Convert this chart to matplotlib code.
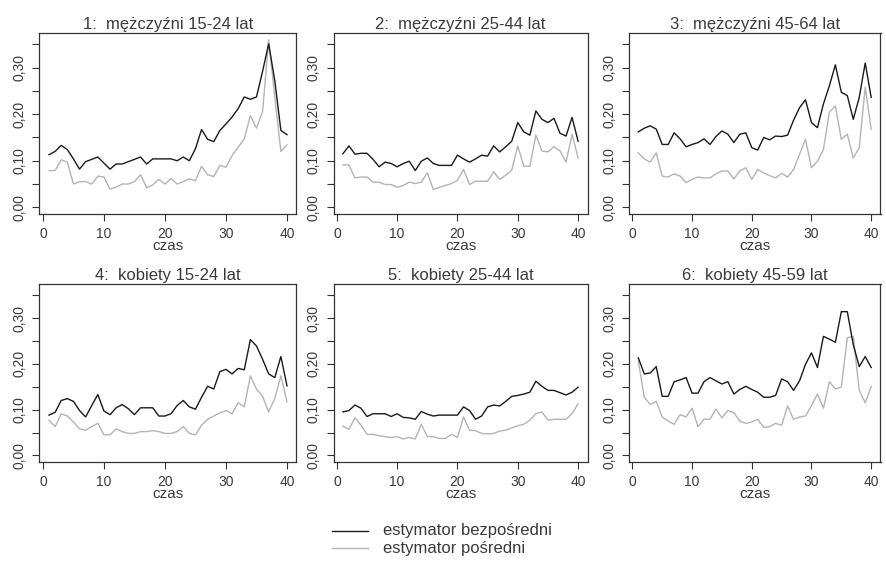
import matplotlib
matplotlib.use("Agg")
import matplotlib.pyplot as plt
import numpy as np
from matplotlib.lines import Line2D

plt.rcParams['font.family'] = ['Liberation Sans', 'DejaVu Sans']

czas = list(range(1, 41))

titles = ["1:  mężczyźni 15-24 lat", "2:  mężczyźni 25-44 lat", "3:  mężczyźni 45-64 lat",
          "4:  kobiety 15-24 lat", "5:  kobiety 25-44 lat", "6:  kobiety 45-59 lat"]

bezp_1 = [0.113, 0.120, 0.133, 0.124, 0.104, 0.082, 0.098, 0.103, 0.108, 0.095,
          0.082, 0.093, 0.093, 0.098, 0.103, 0.108, 0.093, 0.104, 0.104, 0.104,
          0.104, 0.100, 0.108, 0.100, 0.126, 0.167, 0.146, 0.141, 0.165, 0.179,
          0.194, 0.212, 0.237, 0.232, 0.237, 0.292, 0.351, 0.272, 0.165, 0.156]
posr_1 = [0.079, 0.079, 0.102, 0.097, 0.050, 0.055, 0.055, 0.050, 0.067, 0.065,
          0.039, 0.043, 0.050, 0.050, 0.055, 0.070, 0.042, 0.048, 0.060, 0.050,
          0.062, 0.050, 0.055, 0.061, 0.057, 0.088, 0.070, 0.066, 0.090, 0.086,
          0.111, 0.129, 0.147, 0.197, 0.170, 0.206, 0.360, 0.237, 0.120, 0.134]

bezp_2 = [0.115, 0.132, 0.114, 0.116, 0.116, 0.103, 0.087, 0.097, 0.094, 0.087,
          0.094, 0.099, 0.079, 0.099, 0.106, 0.094, 0.090, 0.090, 0.090, 0.112,
          0.104, 0.097, 0.104, 0.112, 0.110, 0.132, 0.119, 0.130, 0.142, 0.182,
          0.162, 0.155, 0.207, 0.189, 0.182, 0.191, 0.159, 0.153, 0.193, 0.142]
posr_2 = [0.091, 0.091, 0.063, 0.065, 0.065, 0.054, 0.054, 0.049, 0.049, 0.043,
          0.047, 0.054, 0.051, 0.054, 0.074, 0.038, 0.043, 0.047, 0.051, 0.058,
          0.081, 0.049, 0.056, 0.056, 0.056, 0.076, 0.060, 0.069, 0.080, 0.132,
          0.088, 0.088, 0.155, 0.121, 0.119, 0.130, 0.121, 0.097, 0.157, 0.106]

bezp_3 = [0.162, 0.170, 0.175, 0.168, 0.135, 0.135, 0.160, 0.147, 0.130, 0.135,
          0.139, 0.147, 0.135, 0.152, 0.164, 0.157, 0.139, 0.157, 0.160, 0.128,
          0.123, 0.150, 0.145, 0.153, 0.152, 0.155, 0.187, 0.214, 0.231, 0.182,
          0.171, 0.222, 0.261, 0.306, 0.247, 0.240, 0.189, 0.236, 0.310, 0.236]
posr_3 = [0.117, 0.104, 0.097, 0.117, 0.067, 0.065, 0.072, 0.067, 0.053, 0.060,
          0.065, 0.063, 0.063, 0.072, 0.078, 0.078, 0.061, 0.078, 0.085, 0.060,
          0.081, 0.074, 0.068, 0.063, 0.073, 0.065, 0.081, 0.114, 0.146, 0.085,
          0.099, 0.124, 0.204, 0.218, 0.146, 0.157, 0.106, 0.128, 0.258, 0.168]

bezp_4 = [0.088, 0.094, 0.120, 0.124, 0.118, 0.098, 0.084, 0.109, 0.133, 0.097,
          0.089, 0.104, 0.111, 0.102, 0.089, 0.104, 0.104, 0.104, 0.086, 0.086,
          0.091, 0.109, 0.120, 0.106, 0.101, 0.127, 0.151, 0.145, 0.183, 0.188,
          0.178, 0.190, 0.187, 0.253, 0.239, 0.210, 0.178, 0.170, 0.216, 0.152]
posr_4 = [0.077, 0.063, 0.091, 0.086, 0.073, 0.058, 0.055, 0.063, 0.070, 0.045,
          0.045, 0.058, 0.052, 0.048, 0.048, 0.052, 0.052, 0.054, 0.052, 0.048,
          0.048, 0.052, 0.063, 0.048, 0.045, 0.066, 0.079, 0.086, 0.093, 0.098,
          0.091, 0.115, 0.106, 0.174, 0.145, 0.129, 0.095, 0.124, 0.174, 0.117]

bezp_5 = [0.095, 0.098, 0.110, 0.103, 0.085, 0.091, 0.091, 0.091, 0.085, 0.091,
          0.083, 0.082, 0.079, 0.096, 0.090, 0.086, 0.088, 0.088, 0.088, 0.088,
          0.106, 0.098, 0.079, 0.086, 0.106, 0.110, 0.108, 0.118, 0.129, 0.131,
          0.134, 0.138, 0.162, 0.151, 0.142, 0.142, 0.137, 0.132, 0.138, 0.149]
posr_5 = [0.064, 0.057, 0.082, 0.066, 0.046, 0.046, 0.043, 0.041, 0.039, 0.041,
          0.036, 0.039, 0.036, 0.068, 0.041, 0.041, 0.037, 0.037, 0.046, 0.039,
          0.084, 0.055, 0.054, 0.048, 0.047, 0.048, 0.053, 0.055, 0.060, 0.065,
          0.068, 0.077, 0.091, 0.095, 0.077, 0.079, 0.079, 0.079, 0.091, 0.113]

bezp_6 = [0.213, 0.178, 0.180, 0.194, 0.129, 0.129, 0.161, 0.165, 0.170, 0.136,
          0.136, 0.161, 0.170, 0.163, 0.156, 0.161, 0.134, 0.144, 0.151, 0.144,
          0.138, 0.127, 0.127, 0.131, 0.167, 0.161, 0.142, 0.163, 0.199, 0.224,
          0.192, 0.260, 0.254, 0.247, 0.314, 0.314, 0.242, 0.194, 0.216, 0.192]
posr_6 = [0.206, 0.127, 0.111, 0.118, 0.084, 0.075, 0.068, 0.089, 0.084, 0.103,
          0.063, 0.079, 0.079, 0.101, 0.082, 0.098, 0.093, 0.075, 0.070, 0.073,
          0.079, 0.061, 0.063, 0.070, 0.066, 0.108, 0.079, 0.084, 0.086, 0.109,
          0.134, 0.103, 0.161, 0.145, 0.149, 0.257, 0.260, 0.142, 0.115, 0.150]

bezp = [bezp_1, bezp_2, bezp_3, bezp_4, bezp_5, bezp_6]
posr = [posr_1, posr_2, posr_3, posr_4, posr_5, posr_6]

x_ticks = [0, 10, 20, 30, 40]
y_ticks = [0.00, 0.05, 0.10, 0.15, 0.20, 0.25, 0.30, 0.35]
y_labels = ["0,00", "", "0,10", "", "0,20", "", "0,30", ""]

W, H = 887, 565
fig = plt.figure(figsize=(W / 100, H / 100), dpi=100)

cols = [(39.5, 296.5), (333.5, 587.5), (629.0, 880.5)]
rows = [(33.0, 214.0), (284.0, 462.0)]

txt = '#3a3a3a'
frame = '#333333'
c_black = '#1a1a1a'
c_gray = '#b4b4b4'

for i in range(6):
    r, c = divmod(i, 3)
    l, rr = cols[c]
    t, b = rows[r]
    ax = fig.add_axes([l / W, 1 - b / H, (rr - l) / W, (b - t) / H])
    ax.plot(czas, posr[i], color=c_gray, lw=1.0)
    ax.plot(czas, bezp[i], color=c_black, lw=1.0)
    ax.set_xlim(-0.56, 41.56)
    ax.set_ylim(-0.0144, 0.3744)
    ax.set_xticks(x_ticks)
    ax.set_xticklabels([str(v) for v in x_ticks])
    ax.set_yticks(y_ticks)
    ax.set_yticklabels(y_labels, rotation=90, va='center')
    ax.tick_params(axis='both', direction='out', length=5, width=0.8, color=frame,
                   labelcolor=txt, labelsize=10, pad=4)
    for s in ax.spines.values():
        s.set_color(frame)
        s.set_linewidth(0.9)
    ax.set_title(titles[i], fontsize=12, color=txt, pad=3)
    ax.set_xlabel("czas", fontsize=11, color=txt, labelpad=-1)

# legend
lx0, lx1 = 332 / W, 368 / W
y1, y2 = 1 - 531 / H, 1 - 548 / H
fig.add_artist(Line2D([lx0, lx1], [y1, y1], color=c_black, lw=1.0, transform=fig.transFigure))
fig.add_artist(Line2D([lx0, lx1], [y2, y2], color=c_gray, lw=1.0, transform=fig.transFigure))
fig.text(383 / W, y1, "estymator bezpośredni", fontsize=12, color=txt, va='center', ha='left')
fig.text(383 / W, y2, "estymator pośredni", fontsize=12, color=txt, va='center', ha='left')

fig.savefig("out.png", dpi=100, facecolor='white')
